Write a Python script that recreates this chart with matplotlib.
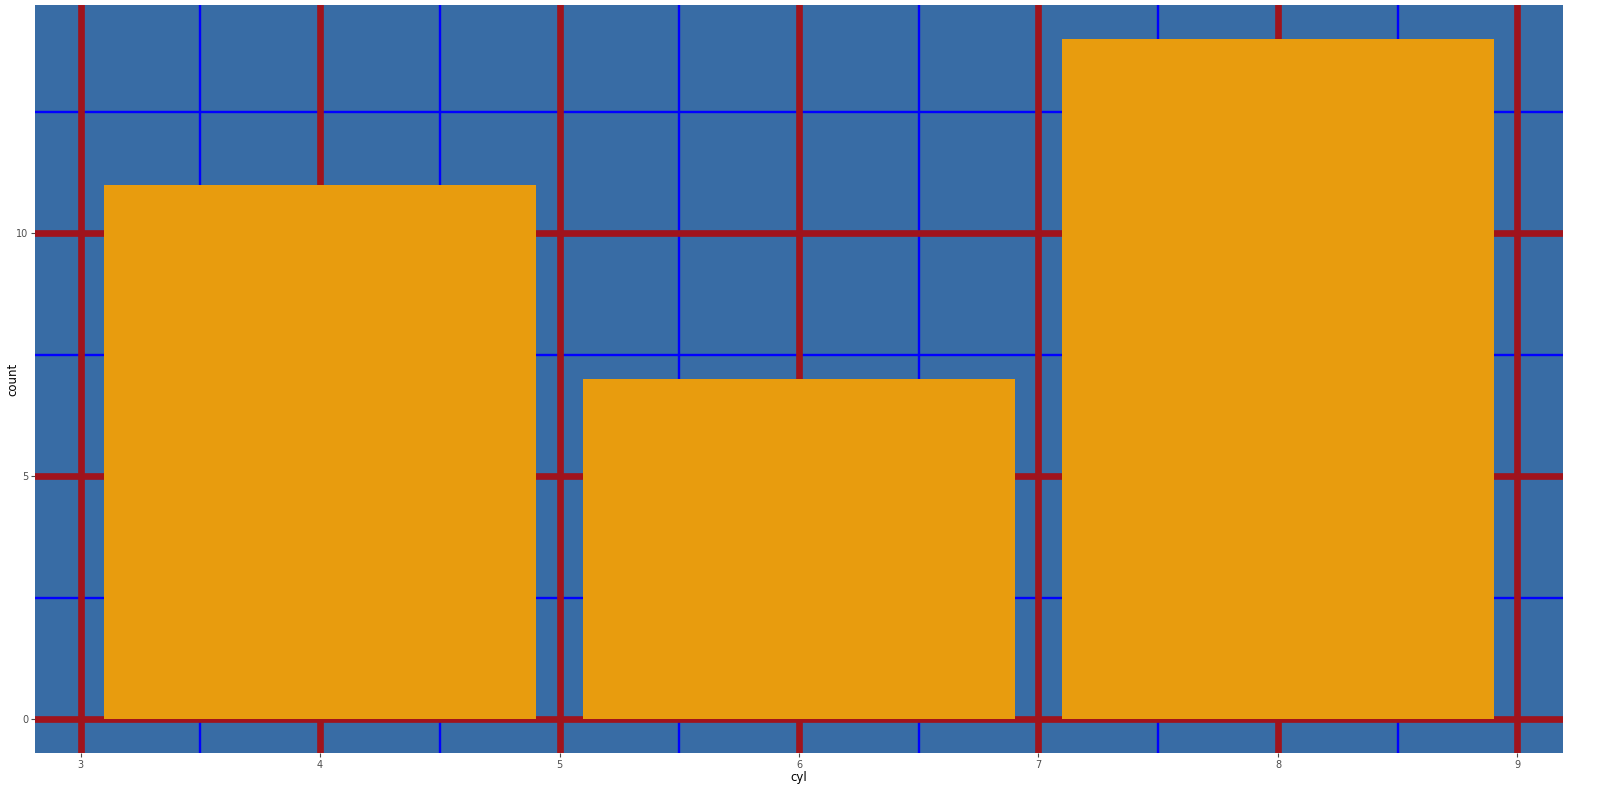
import matplotlib
matplotlib.use("Agg")
import matplotlib.pyplot as plt
import numpy as np

# ---------------------------------------------------------
# DATA
# ---------------------------------------------------------
cyl = [4, 6, 8]
counts = [11, 7, 14]

x_major = [3, 4, 5, 6, 7, 8, 9]
x_minor = [3.5, 4.5, 5.5, 6.5, 7.5, 8.5]
y_major = [0, 5, 10]
y_minor = [2.5, 7.5, 12.5]

# ---------------------------------------------------------
# PLOT
# ---------------------------------------------------------
bg = "#386CA5"
bar_col = "#E89C0E"
red = "#A0131C"
blue = "#0000FF"
txt = "#4D4D4D"

fig = plt.figure(figsize=(16, 8), dpi=100)
ax = fig.add_axes([35 / 1600, 47 / 800, 1528 / 1600, 748 / 800])
ax.set_facecolor(bg)

for x in x_minor:
    ax.axvline(x, color=blue, linewidth=1.7, zorder=1)
for y in y_minor:
    ax.axhline(y, color=blue, linewidth=1.7, zorder=1)
for x in x_major:
    ax.axvline(x, color=red, linewidth=4.8, zorder=2)
for y in y_major:
    ax.axhline(y, color=red, linewidth=4.8, zorder=2)

ax.bar(cyl, counts, width=1.8, color=bar_col, zorder=3)

ax.set_xlim(2.81, 9.19)
ax.set_ylim(-0.7, 14.7)

ax.set_xticks(x_major)
ax.set_yticks(y_major)
ax.tick_params(axis="both", colors=txt, labelsize=7, length=3, width=0.8,
               labelcolor=txt, pad=2)

# axis titles placed as figure text so nothing is clipped
fig.text(799 / 1600, 1 - 778 / 800, "cyl", fontsize=8.5, color="black",
         ha="center", va="center")
fig.text(13 / 1600, 1 - 379 / 800, "count", fontsize=8.5, color="black",
         rotation=90, ha="center", va="center")

for s in ax.spines.values():
    s.set_visible(False)

fig.savefig("out.png", dpi=100)
